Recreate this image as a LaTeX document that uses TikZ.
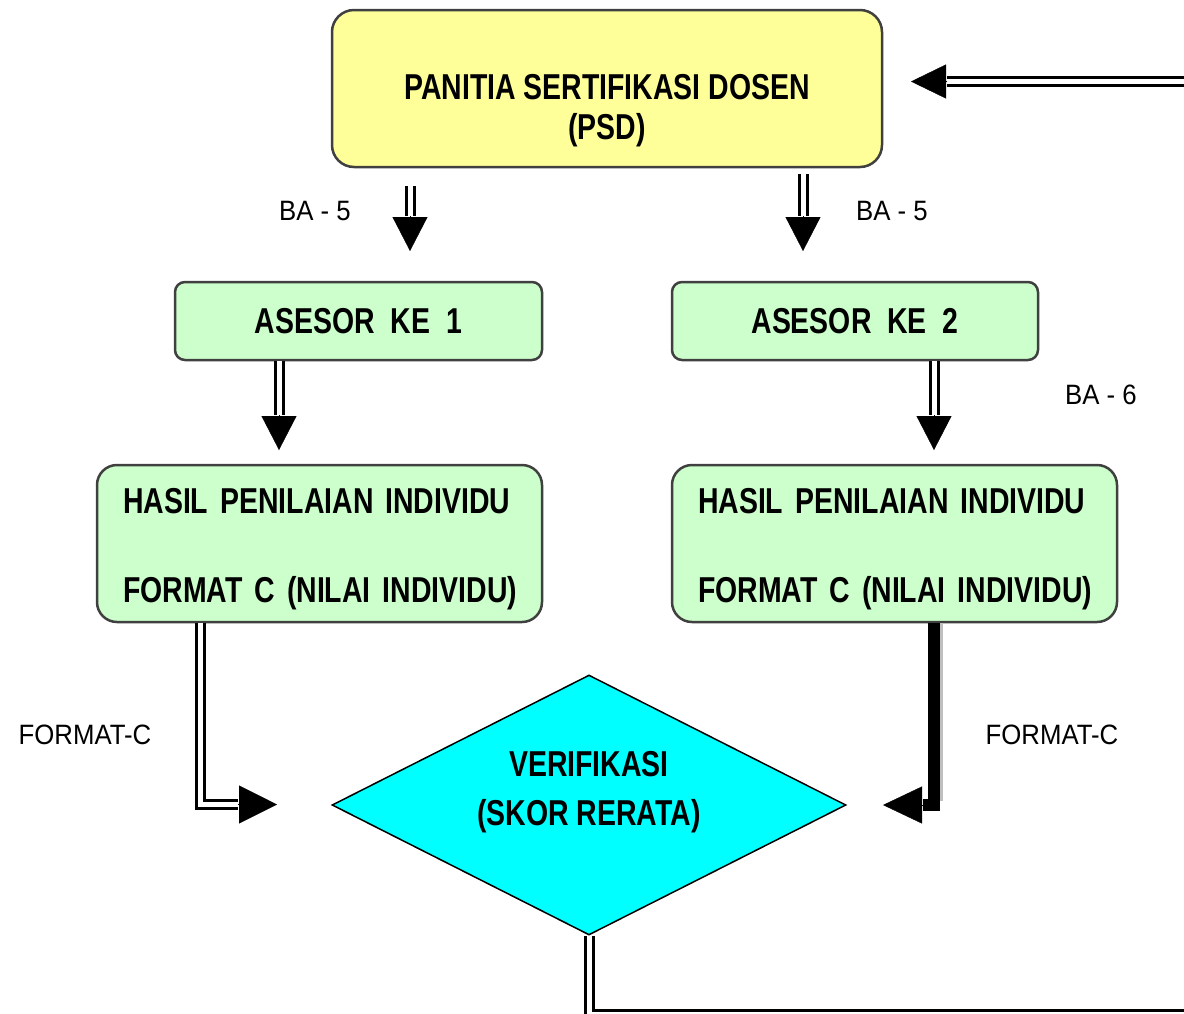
\documentclass[tikz,border=0pt]{standalone}
\usepackage{fontspec}
\setmainfont{Liberation Sans}
\newfontfamily\boxfont{Liberation Sans}[FakeStretch=0.79]
\newfontfamily\lblfont{Liberation Sans}[FakeStretch=0.92]
\usetikzlibrary{arrows.meta,shapes.geometric,calc}
\definecolor{psdyellow}{HTML}{FFFF99}
\definecolor{boxgreen}{HTML}{CCFFCC}
\definecolor{vercyan}{HTML}{00FFFF}
\definecolor{boxline}{HTML}{404040}
\tikzset{
  rbox/.style={draw=boxline, line width=2.5pt, inner sep=0pt,
    font=\boxfont\bfseries\fontsize{36}{40}\selectfont},
  lbl/.style={font=\lblfont\fontsize{28}{34}\selectfont, inner sep=0pt},
  dbl/.style={draw=black, double=white, double distance=5pt, line width=3pt},
  headtip/.style={line width=0.4pt, draw=black, fill=black}
}
\begin{document}
\begin{tikzpicture}[x=1pt,y=-1pt]
\useasboundingbox (0,0) rectangle (1184,1013);
\clip (0,0) rectangle (1184,1013);

% boxes
\node[rbox, fill=psdyellow, rounded corners=22pt, minimum width=550pt, minimum height=157pt, align=center]
  (psd) at (607,88.5) {\rule{0pt}{70pt}PANITIA SERTIFIKASI DOSEN\\(PSD)};
\node[rbox, fill=boxgreen, rounded corners=10pt, minimum width=367pt, minimum height=78pt]
  (a1) at (358.5,321) {ASESOR~~KE~~1};
\node[rbox, fill=boxgreen, rounded corners=10pt, minimum width=366pt, minimum height=78pt]
  (a2) at (855,321) {ASESOR~~KE~~2};
\node[rbox, fill=boxgreen, rounded corners=20pt, minimum width=445pt, minimum height=157pt,
  align=left, text width=393pt, font=\boxfont\bfseries\fontsize{36}{89}\selectfont]
  (h1) at (319.5,543.5) {\mbox{\rule{0pt}{37pt}HASIL PENILAIAN INDIVIDU}\\\mbox{FORMAT C (NILAI INDIVIDU)}};
\node[rbox, fill=boxgreen, rounded corners=20pt, minimum width=445pt, minimum height=157pt,
  align=left, text width=393pt, font=\boxfont\bfseries\fontsize{36}{89}\selectfont]
  (h2) at (894.5,543.5) {\mbox{\rule{0pt}{37pt}HASIL PENILAIAN INDIVIDU}\\\mbox{FORMAT C (NILAI INDIVIDU)}};
\node[diamond, draw=black, line width=1.5pt, fill=vercyan, aspect=2, inner sep=0pt,
  minimum width=514pt, minimum height=260pt, align=center,
  font=\boxfont\bfseries\fontsize{36}{49.5}\selectfont]
  (ver) at (589,805) {VERIFIKASI\\(SKOR RERATA)\rule[-33pt]{0pt}{1pt}};

% labels
\node[lbl] (ba5a) at (315,211) {BA - 5};
\node[lbl] (ba5b) at (892,211) {BA - 5};
\node[lbl] (ba6) at (1101,395) {BA - 6};
\node[lbl] (fc1) at (85,735) {FORMAT-C};
\node[lbl] (fc2) at (1052,735) {FORMAT-C};

% connector end points
\coordinate (p1s) at (410,186);   \coordinate (p1b) at (410,216);  \coordinate (p1e) at (410,251);
\coordinate (p2s) at (803,174);   \coordinate (p2b) at (803,216);  \coordinate (p2e) at (803,251);
\coordinate (q1s) at (279,361);   \coordinate (q1b) at (279,415);  \coordinate (q1e) at (279,450);
\coordinate (q2s) at (934,361);   \coordinate (q2b) at (934,415);  \coordinate (q2e) at (934,450);
\coordinate (r1s) at (200.5,622); \coordinate (r1b) at (238,804.5); \coordinate (r1e) at (277,804.5);
\coordinate (r2s) at (934,622);   \coordinate (r2b) at (923,805);  \coordinate (r2e) at (883,805);
\coordinate (tr) at (1195,81.5);  \coordinate (trb) at (947,81.5); \coordinate (tre) at (911,81.5);
\coordinate (bo) at (1195,1014.5);

% PSD -> asesor
\draw[dbl] (p1s) -- (p1b);
\draw[headtip, -{Triangle[length=34pt,width=35pt]}] (p1b) -- (p1e);
\draw[dbl] (p2s) -- (p2b);
\draw[headtip, -{Triangle[length=34pt,width=35pt]}] (p2b) -- (p2e);
% asesor -> hasil
\draw[dbl] (a1.south -| q1s) -- (q1b);
\draw[headtip, -{Triangle[length=34pt,width=35pt]}] (q1b) -- (q1e);
\draw[dbl] (a2.south -| q2s) -- (q2b);
\draw[headtip, -{Triangle[length=34pt,width=35pt]}] (q2b) -- (q2e);
% hasil -> verifikasi
\draw[dbl] (h1.south -| r1s) |- (r1b);
\draw[headtip, -{Triangle[length=38pt,width=38pt]}] (r1b) -- (r1e);
\draw[black!25, line width=3pt] ($(h2.south -| r2s)+(7,0)$) -- ($(r2s |- r2b)+(7,-4)$);
\draw[black, line width=12pt] (h2.south -| r2s) |- (r2b);
\draw[headtip, -{Triangle[length=39pt,width=37pt]}] (r2b) -- (r2e);
% verifikasi -> out
\draw[dbl] (ver.south) |- (bo);
% in -> PSD
\draw[dbl] (tr) -- (trb);
\draw[headtip, -{Triangle[length=35pt,width=34pt]}] (trb) -- (tre);
\end{tikzpicture}
\end{document}
